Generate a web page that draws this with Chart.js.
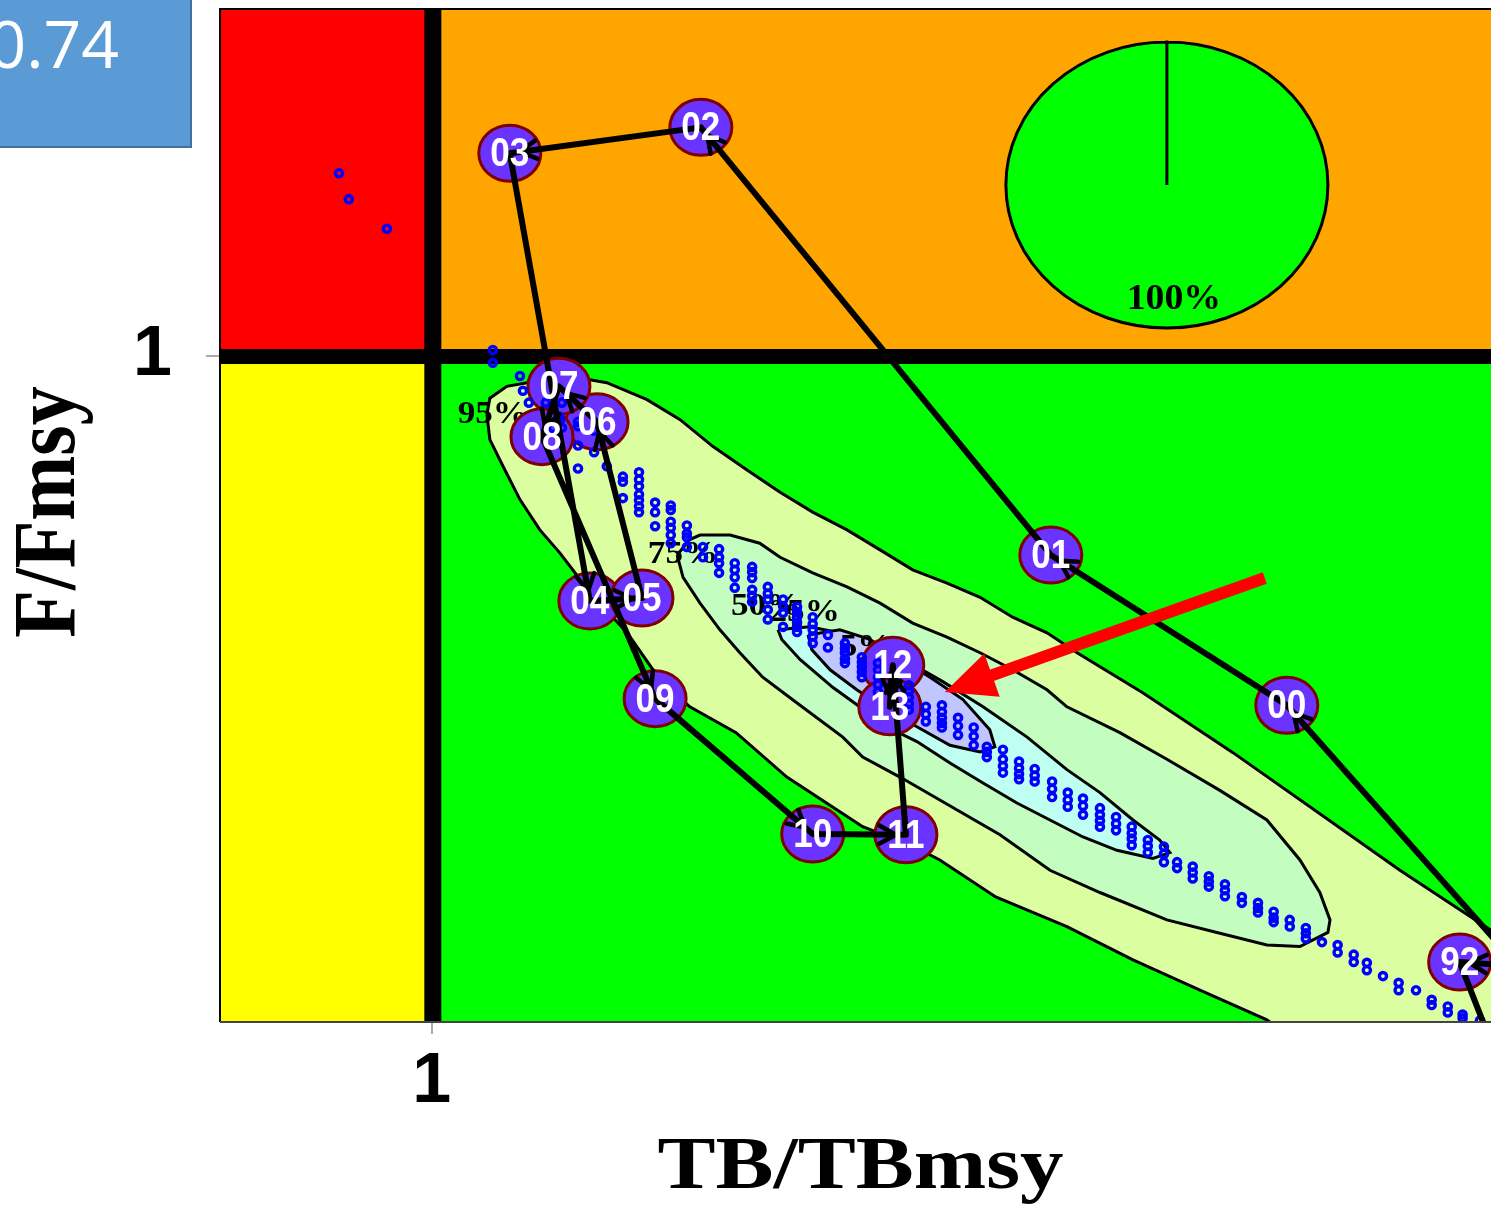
<!DOCTYPE html>
<html>
<head>
<meta charset="utf-8">
<script src="https://cdn.jsdelivr.net/npm/chart.js@4.4.1/dist/chart.umd.min.js"></script>
<style>
  html, body { margin: 0; padding: 0; background: #fff; }
  #wrap { position: relative; width: 1491px; height: 1205px; overflow: hidden; }
  #badge { position: absolute; left: -60px; top: -20px; width: 248px; height: 164px;
           background: #5B9BD5; border: 2px solid #41719C; overflow: hidden; }
  #badge span { position: absolute; right: 71px; top: 27px; color: #fff; white-space: nowrap;
                font: 400 66px/66px "Open Sans", "Noto Sans", sans-serif; }
</style>
</head>
<body>
<div id="wrap">
  <canvas id="kobe"></canvas>
  <div id="badge"><span>0.74</span></div>
</div>
<script>
// ---- Stock trajectory (TB/TBmsy, F/Fmsy); 1994-1998 lie outside the plotted window
const trajYears = ['91','92','93','94','95','96','97','98','99','00','01','02','03','04','05','06','07','08','09','10','11','12','13'];
const trajTB = [3.851,3.426,3.544,null,null,null,null,null,3.644,3.018,2.461,1.635,1.184,1.373,1.496,1.390,1.300,1.260,1.527,1.899,2.119,2.088,2.081];
const trajF  = [0.164,0.181,0.008,null,null,null,null,null,0.124,0.528,0.731,1.309,1.274,0.669,0.673,0.911,0.959,0.891,0.537,0.354,0.353,0.582,0.526];

// ---- Projection draws: TB/TBmsy bins with the F/Fmsy values found in each bin
const projTB = [0.781,0.804,0.894,1.144,1.208,1.215,1.229,1.269,1.307,1.302,1.286,1.345,1.383,1.413,1.451,1.489,1.527,1.564,1.602,1.640,1.678,1.715,1.756,1.793,1.829,1.862,1.899,1.935,1.975,2.015,2.053,2.088,2.126,2.166,2.204,2.242,2.279,2.310,2.348,2.386,2.423,2.464,2.501,2.537,2.577,2.615,2.652,2.690,2.728,2.759,2.796,2.834,2.872,2.912,2.950,2.987,3.025,3.063,3.101,3.138,3.176,3.207,3.245,3.282,3.323,3.360,3.398,3.433,3.474];
const projF = [[1.247],[1.212],[1.172],[1.008,0.991],[0.973],[0.953],[0.937],[0.937],[0.937,0.903],[0.918,0.913],[0.903],
  [0.911,0.905,0.879,0.848],[0.899,0.870],[0.851],[0.837,0.830,0.808],[0.843,0.833,0.824,0.813,0.805,0.797,0.789],
  [0.802,0.789,0.770],[0.798,0.792,0.776,0.768,0.758,0.747],[0.771,0.760,0.755,0.742],[0.742,0.728],[0.739,0.728,0.720,0.707],
  [0.720,0.711,0.701,0.687],[0.715,0.708,0.700,0.684,0.676,0.668],[0.688,0.679,0.671,0.657,0.644],[0.671,0.662,0.653,0.634],
  [0.661,0.654,0.647,0.640,0.634,0.627],[0.647,0.638,0.630,0.621,0.612],[0.623,0.606],[0.612,0.605,0.599,0.591,0.585],
  [0.593,0.586,0.580,0.573,0.566],[0.585,0.576,0.566,0.556,0.546],[0.569,0.559,0.549,0.539],[0.555,0.547,0.539,0.530,0.522],
  [0.526,0.516,0.506],[0.528,0.519,0.511,0.504,0.498],[0.511,0.500,0.488],[0.498,0.486,0.474],[0.472,0.465,0.458],
  [0.468,0.455,0.446,0.437],[0.452,0.443,0.435,0.428],[0.442,0.433,0.425],[0.425,0.415,0.404],[0.410,0.400,0.391],
  [0.402,0.392,0.380],[0.389,0.380,0.372,0.364],[0.377,0.368,0.359],[0.364,0.355,0.348,0.339],[0.346,0.338,0.329],
  [0.337,0.327,0.316],[0.316,0.308],[0.310,0.302,0.294],[0.297,0.290,0.283],[0.286,0.278,0.270],[0.269,0.261],
  [0.261,0.254,0.248],[0.249,0.241,0.235],[0.238,0.229],[0.227,0.220,0.213],[0.208],[0.204,0.194],[0.191,0.181],
  [0.180,0.170],[0.162],[0.153,0.143],[0.143],[0.130,0.123],[0.121,0.113],[0.110,0.105],[0.102]];

// ---- Confidence contours of the terminal-year estimate
const c95TB = [1.130,1.137,1.177,1.255,1.373,1.413,1.508,1.586,1.663,1.744,1.822,1.899,1.980,2.058,2.135,2.216,2.294,2.371,2.452,2.523,2.678,2.891,3.127,3.285,3.500,3.662,3.757,3.096,2.971,2.813,2.655,2.499,2.331,2.199,2.138,2.017,1.838,1.718,1.609,1.538,1.461,1.404,1.350,1.302,1.255,1.208,1.168,1.137];
const c95F  = [0.921,0.943,0.959,0.967,0.968,0.964,0.941,0.914,0.878,0.846,0.816,0.789,0.765,0.738,0.711,0.693,0.674,0.647,0.626,0.599,0.545,0.464,0.369,0.305,0.224,0.164,0.049,0.049,0.103,0.143,0.184,0.229,0.269,0.319,0.337,0.364,0.431,0.491,0.526,0.563,0.626,0.661,0.698,0.734,0.765,0.806,0.851,0.887];
const c75TB = [1.579,1.609,1.633,1.704,1.774,1.822,1.899,1.980,2.058,2.135,2.216,2.294,2.371,2.452,2.499,2.624,2.735,2.860,2.971,3.049,3.096,3.120,3.115,3.049,2.971,2.853,2.735,2.577,2.459,2.341,2.199,2.105,2.017,1.970,1.862,1.781,1.727,1.680,1.633,1.593];
const c75F  = [0.731,0.752,0.758,0.758,0.747,0.728,0.707,0.688,0.666,0.639,0.620,0.599,0.576,0.549,0.526,0.491,0.455,0.413,0.373,0.319,0.275,0.238,0.221,0.202,0.204,0.221,0.238,0.275,0.305,0.353,0.400,0.431,0.458,0.485,0.531,0.566,0.599,0.630,0.666,0.701];
const c50TB = [1.817,1.892,1.987,2.074,2.145,2.206,2.301,2.405,2.499,2.577,2.655,2.718,2.742,2.702,2.617,2.537,2.459,2.381,2.301,2.223,2.145,2.074,2.027,1.947,1.869,1.826];
const c50F  = [0.630,0.634,0.623,0.607,0.580,0.560,0.526,0.485,0.441,0.410,0.373,0.346,0.329,0.321,0.332,0.350,0.373,0.396,0.423,0.450,0.479,0.499,0.519,0.552,0.590,0.617];
const c25TB = [1.888,1.963,2.034,2.098,2.176,2.253,2.317,2.329,2.294,2.223,2.145,2.058,2.003,1.940,1.897];
const c25F  = [0.623,0.630,0.617,0.593,0.566,0.536,0.495,0.472,0.465,0.474,0.499,0.528,0.549,0.576,0.603];

// contour level labels
const contourLevels  = ['95%','75%','50%','25%','5%'];
const contourLabelTB = [1.144,1.593,1.789,1.880,2.025];
const contourLabelF  = [0.921,0.731,0.661,0.653,0.606];

// share of the terminal-year estimate in each Kobe quadrant
const kobeZones = ['green','yellow','orange','red'];
const kobeShare = [100,0,0,0];

// axis tick values
const tbTicks = [1];
const fTicks  = [1];

const zoneColor = { red: '#FF0000', orange: '#FFA500', yellow: '#FFFF00', green: '#00FF00' };

function toPoints(xs, ys) { return xs.map((v, i) => ({ x: v, y: ys[i] })); }
function closed(xs, ys) { const p = toPoints(xs, ys); p.push({ ...p[0] }); return p; }

const projPoints = [];
projTB.forEach((tb, i) => projF[i].forEach(f => projPoints.push({ x: tb, y: f })));

function contourSet(role, xs, ys, color, order) {
  return {
    type: 'line', role, data: closed(xs, ys), fill: 'shape', backgroundColor: color,
    borderColor: '#000', borderWidth: 3, pointRadius: 0, pointHitRadius: 0, tension: 0, order
  };
}

function clipTo(ctx, a) {
  ctx.beginPath(); ctx.rect(a.left, a.top, a.right - a.left, a.bottom - a.top); ctx.clip();
}
function roleIndex(chart, role) { return chart.data.datasets.findIndex(d => d.role === role); }

const kobePlugin = {
  id: 'kobe',
  beforeDatasetsDraw(chart) {
    const { ctx, chartArea: a, scales: { x, y } } = chart;
    const x1 = x.getPixelForValue(1), y1 = y.getPixelForValue(1);
    ctx.save();
    ctx.fillStyle = zoneColor.red;    ctx.fillRect(a.left, a.top, x1 - a.left, y1 - a.top);
    ctx.fillStyle = zoneColor.orange; ctx.fillRect(x1, a.top, a.right - x1, y1 - a.top);
    ctx.fillStyle = zoneColor.yellow; ctx.fillRect(a.left, y1, x1 - a.left, a.bottom - y1);
    ctx.fillStyle = zoneColor.green;  ctx.fillRect(x1, y1, a.right - x1, a.bottom - y1);
    // reference lines at TB/TBmsy = 1 and F/Fmsy = 1
    ctx.fillStyle = '#000';
    ctx.fillRect(x1 - 7.5, a.top, 17, a.bottom - a.top);
    ctx.fillRect(a.left, y1 - 7, a.right - a.left, 15);
    ctx.restore();
  },
  beforeDatasetDraw(chart, args) {
    const role = chart.data.datasets[args.index].role;
    if (role !== 'proj') return;
    // year markers sit under the projection draws and the trajectory
    const { ctx, chartArea: a } = chart;
    const meta = chart.getDatasetMeta(roleIndex(chart, 'track'));
    ctx.save();
    clipTo(ctx, a);
    meta.data.forEach(p => {
      if (p.skip || isNaN(p.x) || isNaN(p.y)) return;
      ctx.beginPath();
      ctx.ellipse(p.x, p.y, 31, 28, 0, 0, Math.PI * 2);
      ctx.fillStyle = '#6B33FF'; ctx.fill();
      ctx.lineWidth = 3; ctx.strokeStyle = '#800000'; ctx.stroke();
    });
    ctx.restore();
  },
  afterDatasetDraw(chart, args) {
    const role = chart.data.datasets[args.index].role;
    const { ctx, chartArea: a, scales: { x, y } } = chart;
    if (role === 'c25') {
      ctx.save();
      clipTo(ctx, a);
      ctx.fillStyle = '#000';
      ctx.font = 'bold 32px "Liberation Serif", "Times New Roman", serif';
      ctx.textAlign = 'center'; ctx.textBaseline = 'middle';
      contourLevels.forEach((t, i) => {
        ctx.save();
        ctx.translate(x.getPixelForValue(contourLabelTB[i]), y.getPixelForValue(contourLabelF[i]));
        ctx.scale(1.1, 1);
        ctx.fillText(t, 0, 0);
        ctx.restore();
      });
      ctx.restore();
    }
    if (role === 'track') {
      const meta = chart.getDatasetMeta(args.index);
      const pts = meta.data;
      ctx.save();
      clipTo(ctx, a);
      // arrow heads at the end of each yearly step
      ctx.strokeStyle = '#000'; ctx.lineWidth = 4.5; ctx.lineCap = 'round';
      for (let i = 1; i < pts.length; i++) {
        const p0 = pts[i - 1], p1 = pts[i];
        if (p0.skip || p1.skip) continue;
        const ang = Math.atan2(p1.y - p0.y, p1.x - p0.x);
        const tx = p1.x - 10 * Math.cos(ang), ty = p1.y - 10 * Math.sin(ang);
        ctx.beginPath();
        [-0.5, 0.5].forEach(s => {
          ctx.moveTo(tx, ty);
          ctx.lineTo(tx + 19 * Math.cos(ang + Math.PI + s), ty + 19 * Math.sin(ang + Math.PI + s));
        });
        ctx.stroke();
      }
      // year labels
      ctx.fillStyle = '#fff';
      ctx.font = 'bold 39px "Liberation Sans", Arial, sans-serif';
      ctx.textAlign = 'center'; ctx.textBaseline = 'middle';
      pts.forEach((p, i) => {
        if (p.skip || isNaN(p.x) || isNaN(p.y)) return;
        ctx.save();
        ctx.translate(p.x, p.y + 2);
        ctx.scale(0.9, 1.02);
        ctx.fillText(trajYears[i], 0, 0);
        ctx.restore();
      });
      ctx.restore();
    }
  },
  afterDatasetsDraw(chart, args, opts) {
    const { ctx, chartArea: a, scales: { x, y } } = chart;
    ctx.save();
    // plot frame
    ctx.lineWidth = 2;
    ctx.strokeStyle = '#000';
    ctx.beginPath();
    ctx.moveTo(a.left, a.bottom); ctx.lineTo(a.left, a.top - 1); ctx.lineTo(a.right, a.top - 1);
    ctx.stroke();
    ctx.strokeStyle = '#444';
    ctx.beginPath(); ctx.moveTo(a.left, a.bottom); ctx.lineTo(a.right, a.bottom); ctx.stroke();

    // quadrant share pie
    const pc = opts.pie;
    const cx = x.getPixelForValue(pc.tb), cy = y.getPixelForValue(pc.f);
    const total = kobeShare.reduce((s, v) => s + v, 0);
    let start = -Math.PI / 2;
    kobeShare.forEach((v, i) => {
      if (v <= 0) return;
      const end = start + v / total * Math.PI * 2;
      ctx.beginPath();
      ctx.moveTo(cx, cy);
      ctx.ellipse(cx, cy, pc.rx, pc.ry, 0, start, end);
      ctx.closePath();
      ctx.fillStyle = zoneColor[kobeZones[i]]; ctx.fill();
      ctx.lineWidth = 3; ctx.strokeStyle = '#000'; ctx.stroke();
      const mid = (start + end) / 2;
      ctx.save();
      ctx.translate(cx + 0.8 * pc.rx * Math.cos(mid) + 7, cy + 0.8 * pc.ry * Math.sin(mid));
      ctx.scale(1.08, 1);
      ctx.fillStyle = '#000';
      ctx.font = 'bold 35px "Liberation Serif", "Times New Roman", serif';
      ctx.textAlign = 'center'; ctx.textBaseline = 'middle';
      ctx.fillText(Math.round(v) + '%', 0, 0);
      ctx.restore();
      start = end;
    });

    // pointer to the terminal-year estimate
    const ar = opts.arrow;
    const ax0 = x.getPixelForValue(ar.fromTB), ay0 = y.getPixelForValue(ar.fromF);
    const ax1 = x.getPixelForValue(ar.toTB),   ay1 = y.getPixelForValue(ar.toF);
    const ang = Math.atan2(ay1 - ay0, ax1 - ax0);
    const ux = Math.cos(ang), uy = Math.sin(ang);
    const headLen = 50, headHalf = 23;
    ctx.strokeStyle = '#FF0000'; ctx.lineWidth = 12; ctx.lineCap = 'butt';
    ctx.beginPath(); ctx.moveTo(ax0, ay0); ctx.lineTo(ax1 - ux * (headLen - 4), ay1 - uy * (headLen - 4)); ctx.stroke();
    ctx.fillStyle = '#FF0000';
    ctx.beginPath();
    ctx.moveTo(ax1, ay1);
    ctx.lineTo(ax1 - ux * headLen - uy * headHalf, ay1 - uy * headLen + ux * headHalf);
    ctx.lineTo(ax1 - ux * headLen + uy * headHalf, ay1 - uy * headLen - ux * headHalf);
    ctx.closePath(); ctx.fill();
    ctx.restore();
  },
  afterDraw(chart) {
    const { ctx, chartArea: a } = chart;
    ctx.save();
    ctx.fillStyle = '#000';
    ctx.textAlign = 'center'; ctx.textBaseline = 'alphabetic';
    ctx.font = 'bold 75px "Liberation Serif", "Times New Roman", serif';
    ctx.save();
    ctx.translate((a.left + a.right) / 2 + 5, 1188);
    ctx.scale(1.16, 1);
    ctx.fillText('TB/TBmsy', 0, 0);
    ctx.restore();
    ctx.font = 'bold 78px "Liberation Serif", "Times New Roman", serif';
    ctx.save();
    ctx.translate(74, (a.top + a.bottom) / 2 - 4);
    ctx.scale(1.13, 1);
    ctx.rotate(-Math.PI / 2);
    ctx.fillText('F/Fmsy', 0, 0);
    ctx.restore();
    ctx.restore();
  }
};

const tickFont = { family: '"Liberation Sans", Arial, sans-serif', size: 70, weight: 'bold' };

new Chart(document.getElementById('kobe'), {
  type: 'scatter',
  data: {
    datasets: [
      contourSet('c95', c95TB, c95F, '#DBFFA0', 10),
      contourSet('c75', c75TB, c75F, '#C3FDC0', 9),
      contourSet('c50', c50TB, c50F, '#BEFFF2', 8),
      contourSet('c25', c25TB, c25F, '#C0C6FF', 7),
      {
        type: 'scatter', role: 'proj', data: projPoints, order: 5,
        pointStyle: 'circle', pointRadius: 3.6, pointBorderWidth: 3.4,
        borderColor: '#0000FF', backgroundColor: 'rgba(0,0,0,0)'
      },
      {
        type: 'line', role: 'track', data: toPoints(trajTB, trajF), order: 3,
        borderColor: '#000', borderWidth: 6, pointRadius: 0, pointHitRadius: 0,
        tension: 0, fill: false, spanGaps: false, borderCapStyle: 'round', borderJoinStyle: 'round'
      }
    ]
  },
  options: {
    responsive: true,
    maintainAspectRatio: false,
    animation: false,
    events: [],
    layout: { autoPadding: false, padding: { top: 10, left: 0, right: 0, bottom: 0 } },
    plugins: {
      legend: { display: false },
      tooltip: { enabled: false },
      kobe: {
        pie: { tb: 2.735, f: 1.231, rx: 161, ry: 143 },
        arrow: { fromTB: 2.966, fromF: 0.700, toTB: 2.211, toF: 0.546 }
      }
    },
    scales: {
      x: {
        type: 'linear', min: 0.5, max: 3.5,
        afterBuildTicks: s => { s.ticks = tbTicks.map(v => ({ value: v })); },
        afterFit: s => { s.height = 183; s.paddingLeft = 0; s.paddingRight = 0; },
        ticks: { font: tickFont, color: '#000', padding: 7, maxRotation: 0 },
        grid: { drawOnChartArea: false, drawTicks: true, tickLength: 12, color: '#AAAAAA', lineWidth: 2 },
        border: { display: false }
      },
      y: {
        type: 'linear', min: 0.1, max: 1.4676,
        afterBuildTicks: s => { s.ticks = fTicks.map(v => ({ value: v })); },
        afterFit: s => { s.width = 220; s.paddingTop = 0; s.paddingBottom = 0; },
        ticks: { font: tickFont, color: '#000', padding: 34 },
        grid: { drawOnChartArea: false, drawTicks: true, tickLength: 14, color: '#AAAAAA', lineWidth: 2 },
        border: { display: false }
      }
    }
  },
  plugins: [kobePlugin]
});
</script>
</body>
</html>
